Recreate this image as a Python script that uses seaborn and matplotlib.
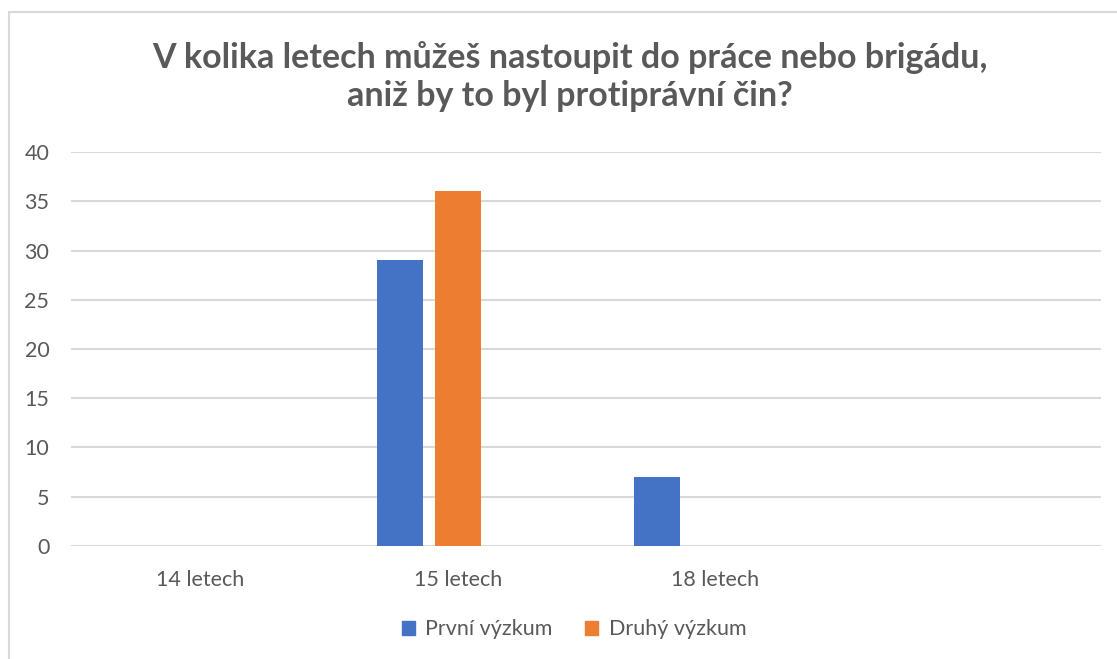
import matplotlib
matplotlib.use('Agg')
import matplotlib.pyplot as plt
import matplotlib.patches as patches
import pandas as pd
import seaborn as sns

# Data
categories = ['14 letech', '15 letech', '18 letech', '']
series = ['První výzkum', 'Druhý výzkum', ' ']
prvni = [0, 29, 7, 0]
druhy = [0, 36, 0, 0]
treti = [0, 0, 0, 0]  # prázdná řada (jen kvůli rozestupům)

BLUE = '#4472C4'
ORANGE = '#ED7D31'
GRID = '#D9D9D9'
TEXT = '#595959'

df = pd.DataFrame({
    'kategorie': categories * 3,
    'rada': [series[0]] * 4 + [series[1]] * 4 + [series[2]] * 4,
    'hodnota': prvni + druhy + treti,
})

sns.set_theme(style='white')
plt.rcParams['font.family'] = ['Lato', 'DejaVu Sans']

fig = plt.figure(figsize=(11.17, 6.59), dpi=100, facecolor='white')
ax = fig.add_axes([0.064, 0.1715, 0.922, 0.5978])

sns.barplot(data=df, x='kategorie', y='hodnota', hue='rada', order=categories,
            hue_order=series, palette=[BLUE, ORANGE, 'white'], width=0.676, gap=0.207,
            saturation=1, linewidth=0, ax=ax, legend=False)

ax.set_ylim(0, 40)
ax.set_yticks(range(0, 41, 5))
ax.set_xlim(-0.5, 3.5)
ax.yaxis.grid(True, color=GRID, linewidth=1.5)
ax.set_axisbelow(True)
for s in ax.spines.values():
    s.set_visible(False)
ax.set_xlabel('')
ax.set_ylabel('')
ax.tick_params(axis='both', length=0, labelsize=15.5, colors=TEXT)
ax.tick_params(axis='y', pad=16)
ax.tick_params(axis='x', pad=17)

# Titulek
fig.text(0.51, 0.884, 'V kolika letech můžeš nastoupit do práce nebo brigádu,\naniž by to byl protiprávní čin?',
         ha='center', va='center', fontsize=24.5, fontweight='bold', color=TEXT, linespacing=1.25)

# Legenda
handles = [patches.Patch(color=BLUE, label=series[0]),
           patches.Patch(color=ORANGE, label=series[1])]
fig.legend(handles=handles, loc='center', bbox_to_anchor=(0.514, 0.045), ncol=2, frameon=False,
           fontsize=15.5, handlelength=0.6, handleheight=0.6, handletextpad=0.5, columnspacing=1.5,
           labelcolor=TEXT)

# Rámeček grafu
fig.add_artist(patches.Rectangle((9 / 1117, -0.2), 1.2, 1.2 - 12 / 659, transform=fig.transFigure,
                                 fill=False, edgecolor=GRID, linewidth=1.5))

# Oříznutý nadpis nad grafem
fig.text(0.012, 1 - 3 / 659, 'Graf 02', ha='left', va='bottom', fontsize=14, fontweight='bold',
         color='#2F5496', family=['Liberation Serif', 'DejaVu Serif'])

fig.savefig('out.png', dpi=100, facecolor='white')
